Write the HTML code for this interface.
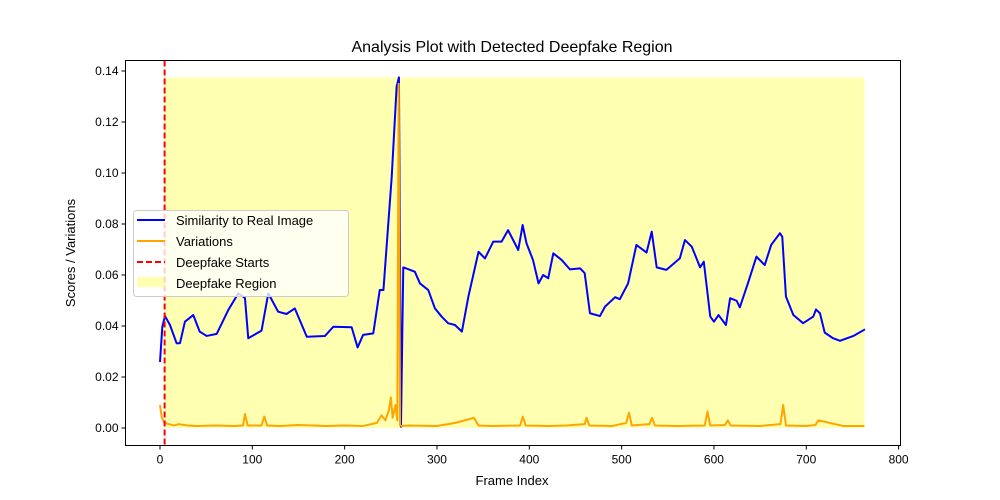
<!DOCTYPE html>
<html><head><meta charset="utf-8"><style>
body{margin:0;background:#fff}
svg{display:block;font-family:"Liberation Sans","DejaVu Sans",sans-serif}
</style></head><body>
<svg id="chart" width="1000" height="500" xmlns="http://www.w3.org/2000/svg">
<rect width="1000" height="500" fill="#fff"/>
<text x="512" y="52" text-anchor="middle" font-size="16" fill="#000">Analysis Plot with Detected Deepfake Region</text>
<g id="plot"></g>
<text x="512" y="485" text-anchor="middle" font-size="13">Frame Index</text>
<text transform="translate(75,253) rotate(-90)" text-anchor="middle" font-size="13">Scores / Variations</text>
<g>
<rect x="133.5" y="210.5" width="215" height="86" rx="3" fill="#fff" fill-opacity="0.8" stroke="#ccc"/>
<g><line x1="137" y1="220" x2="165" y2="220" stroke="#0000ff" stroke-width="2"/><text x="176" y="225" font-size="13">Similarity to Real Image</text></g>
<g><line x1="137" y1="241" x2="165" y2="241" stroke="orange" stroke-width="2"/><text x="176" y="246" font-size="13">Variations</text></g>
<g><line x1="137" y1="262" x2="165" y2="262" stroke="red" stroke-width="2" stroke-dasharray="6,3"/><text x="176" y="267" font-size="13">Deepfake Starts</text></g>
<g><rect x="137" y="277" width="28" height="10" fill="#ffff00" fill-opacity="0.3"/><text x="176" y="288" font-size="13">Deepfake Region</text></g>
</g>
</svg>
<script>
const simFrames=[0,2.5,5.4,10.8,18,21.7,27,36,43,50.5,61.4,74,84.8,92,95.6,110,117.3,128,137,146,159,178.7,187.7,207.6,214,220,231,238,242,251,256.3,258.8,261,263.5,276,281.6,290.6,297.8,305,312,319.5,327,334,345,352,361,370,377,388,392.8,397,404,410,415,420.5,426,435,444,455,460,465.7,476.5,482,493,498,507,516,527,532.6,538,548.5,563,568.6,576,585,589,596,600,605,613,617.5,624.6,628,637,646,655,662,671.5,674,678,686,696.6,707.6,710.5,714.8,720,729,736.5,751,763.6];
const simValues=[0.0259,0.0397,0.0439,0.0404,0.0332,0.0333,0.0417,0.0443,0.0378,0.0361,0.0369,0.0463,0.0528,0.051,0.0352,0.0382,0.0528,0.0456,0.0447,0.0469,0.0358,0.0361,0.0397,0.0395,0.0316,0.0365,0.0371,0.0541,0.0541,0.0986,0.1339,0.1375,0.0005,0.063,0.0613,0.0567,0.0541,0.0469,0.0437,0.0411,0.0404,0.0378,0.0515,0.0691,0.0665,0.0731,0.0731,0.0776,0.0698,0.0796,0.0724,0.0659,0.0567,0.06,0.0587,0.0685,0.0659,0.0622,0.0626,0.0607,0.045,0.0439,0.0476,0.0513,0.0505,0.0567,0.0718,0.0688,0.077,0.063,0.062,0.0665,0.0737,0.0711,0.063,0.0652,0.0437,0.0417,0.0443,0.0404,0.0509,0.0499,0.0473,0.057,0.0672,0.0639,0.0718,0.0764,0.075,0.0515,0.0443,0.0411,0.0437,0.0465,0.045,0.0374,0.0352,0.0342,0.0361,0.0387];
const varFrames=[0,2,5,10,15,20,30,40,60,80,90,92,95,110,113,116,130,150,180,200,220,235,240,244,248,250,252,255,257,258.5,260,262,270,300,320,330,340,345,360,390,393,396,420,440,460,462,465,490,505,508,511,530,533,536,560,590,593,596,612,615,618,650,672,675,678,700,710,713,740,763];
const varValues=[0.009,0.004,0.002,0.0015,0.001,0.0015,0.001,0.0008,0.001,0.0008,0.001,0.0055,0.001,0.001,0.0045,0.001,0.0008,0.0012,0.0008,0.001,0.0008,0.002,0.005,0.003,0.007,0.012,0.004,0.009,0.003,0.135,0.001,0.0008,0.001,0.0008,0.002,0.003,0.004,0.001,0.0008,0.001,0.0045,0.001,0.0008,0.001,0.0015,0.004,0.001,0.0008,0.002,0.006,0.001,0.0015,0.004,0.001,0.0008,0.001,0.0065,0.001,0.0012,0.003,0.001,0.0008,0.0015,0.009,0.001,0.0008,0.0012,0.003,0.0008,0.0008];
const regionStart=5, regionEnd=763, regionTop=0.1375;
const xTicks=[0,100,200,300,400,500,600,700,800];
const yTicks=[0,0.02,0.04,0.06,0.08,0.1,0.12,0.14];
const yTickLabels=["0.00","0.02","0.04","0.06","0.08","0.10","0.12","0.14"];

const L=125.5,R=900.5,T=60.5,B=445.5;
const X=f=>160+f*0.92325;
const Y=v=>428-v*2550;
const NS="http://www.w3.org/2000/svg";
const plot=document.getElementById('plot');
function mk(tag,attrs,parent){const e=document.createElementNS(NS,tag);for(const k in attrs)e.setAttribute(k,attrs[k]);(parent||plot).appendChild(e);return e;}

const reg=mk('rect',{x:X(regionStart),y:Y(regionTop),width:X(regionEnd)-X(regionStart),height:Y(0)-Y(regionTop),fill:'#ffff00','fill-opacity':0.3});



const sp=mk('polyline',{points:simFrames.map((f,i)=>X(f)+','+Y(simValues[i])).join(' '),fill:'none',stroke:'#0000ff','stroke-width':2,'stroke-linejoin':'round'});



const vp=mk('polyline',{points:varFrames.map((f,i)=>X(f)+','+Y(varValues[i])).join(' '),fill:'none',stroke:'orange','stroke-width':2,'stroke-linejoin':'round'});



const dl=mk('line',{x1:X(regionStart),x2:X(regionStart),y1:T,y2:B,stroke:'red','stroke-width':2,'stroke-dasharray':'6,3'});



const fr=mk('rect',{x:L,y:T,width:R-L,height:B-T,fill:'none',stroke:'#000','stroke-width':1});



xTicks.forEach(t=>{
  const g=mk('g',{});
  
  
  mk('line',{x1:X(t),x2:X(t),y1:B,y2:B+4,stroke:'#000'},g);
  const tx=mk('text',{x:X(t),y:B+18,'text-anchor':'middle','font-size':12},g);tx.textContent=t;
});
yTicks.forEach((t,i)=>{
  const g=mk('g',{});
  
  
  mk('line',{x1:L-4,x2:L,y1:Y(t),y2:Y(t),stroke:'#000'},g);
  const tx=mk('text',{x:L-7,y:Y(t)+4,'text-anchor':'end','font-size':12},g);tx.textContent=yTickLabels[i];
});
</script>
</body></html>
